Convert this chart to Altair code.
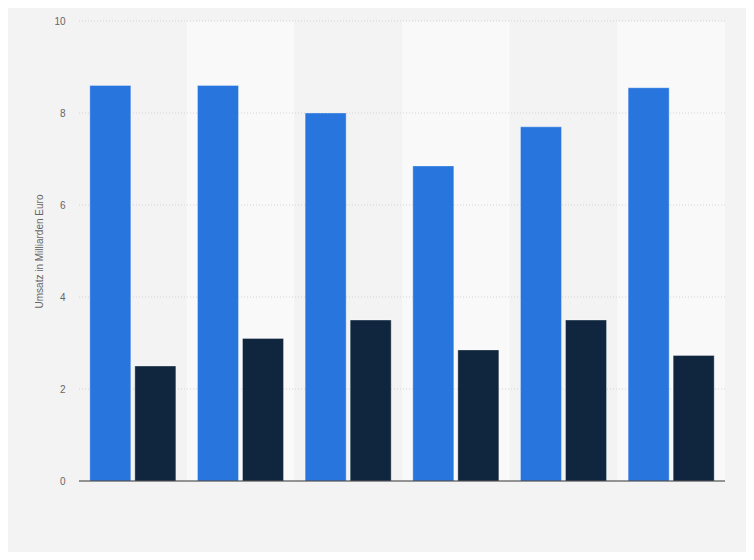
import altair as alt
import pandas as pd

categories = ["1", "2", "3", "4", "5", "6"]
series_names = ["A", "B"]
values_a = [8.6, 8.6, 8.0, 6.85, 7.7, 8.55]
values_b = [2.5, 3.1, 3.5, 2.85, 3.5, 2.73]
band_shade = ["dark", "light", "dark", "light", "dark", "light"]
grid_values = [2, 4, 6, 8, 10]

rows = []
for c, a, b in zip(categories, values_a, values_b):
    rows.append({"cat": c, "series": series_names[0], "value": a})
    rows.append({"cat": c, "series": series_names[1], "value": b})
bars_df = pd.DataFrame(rows)
bands_df = pd.DataFrame({"cat": categories, "shade": band_shade, "top": [10] * 6, "bottom": [0] * 6})

x_scale = alt.Scale(paddingInner=0, paddingOuter=0)
y_scale = alt.Scale(domain=[0, 10])

bands = alt.Chart(bands_df).mark_rect().encode(
    x=alt.X("cat:N", scale=x_scale, sort=categories, axis=None),
    y=alt.Y("top:Q", scale=y_scale),
    y2="bottom:Q",
    color=alt.Color("shade:N", scale=alt.Scale(domain=["dark", "light"], range=["#f3f3f3", "#f9f9f9"]), legend=None),
)

grid = alt.Chart(pd.DataFrame({"g": grid_values})).mark_rule(
    color="#d4d4d4", strokeDash=[1, 2], strokeWidth=1
).encode(y=alt.Y("g:Q", scale=y_scale))

bars = alt.Chart(bars_df).mark_bar(stroke="#ffffff", strokeOpacity=0.35, strokeWidth=1).encode(
    x=alt.X("cat:N", scale=x_scale, sort=categories, axis=None),
    xOffset=alt.XOffset("series:N", scale=alt.Scale(paddingInner=0.089, paddingOuter=0.24)),
    y=alt.Y(
        "value:Q",
        scale=y_scale,
        axis=alt.Axis(
            title="Umsatz in Milliarden Euro",
            values=[0, 2, 4, 6, 8, 10],
            grid=False,
            domain=False,
            ticks=False,
            labelColor="#666666",
            labelFontSize=10,
            labelFont="Liberation Sans",
            labelPadding=14,
            titleColor="#666666",
            titleFontSize=10,
            titleFontWeight="normal",
            titleFont="Liberation Sans",
            titlePadding=9,
        ),
    ),
    color=alt.Color("series:N", scale=alt.Scale(domain=series_names, range=["#2876dd", "#10263e"]), legend=None),
)

baseline = alt.Chart(pd.DataFrame({"v": [0]})).mark_rule(color="#333333", strokeWidth=1.2).encode(
    y=alt.Y("v:Q", scale=y_scale)
)

chart = alt.layer(bands, grid, bars, baseline).resolve_scale(color="independent").properties(
    width=646,
    height=460,
    background="#f3f3f3",
    padding={"left": 71, "top": 13, "right": 21, "bottom": 71},
    autosize=alt.AutoSizeParams(type="none"),
).configure_view(stroke=None)

chart.save("out.html", embed_options={"renderer": "svg", "actions": False})
